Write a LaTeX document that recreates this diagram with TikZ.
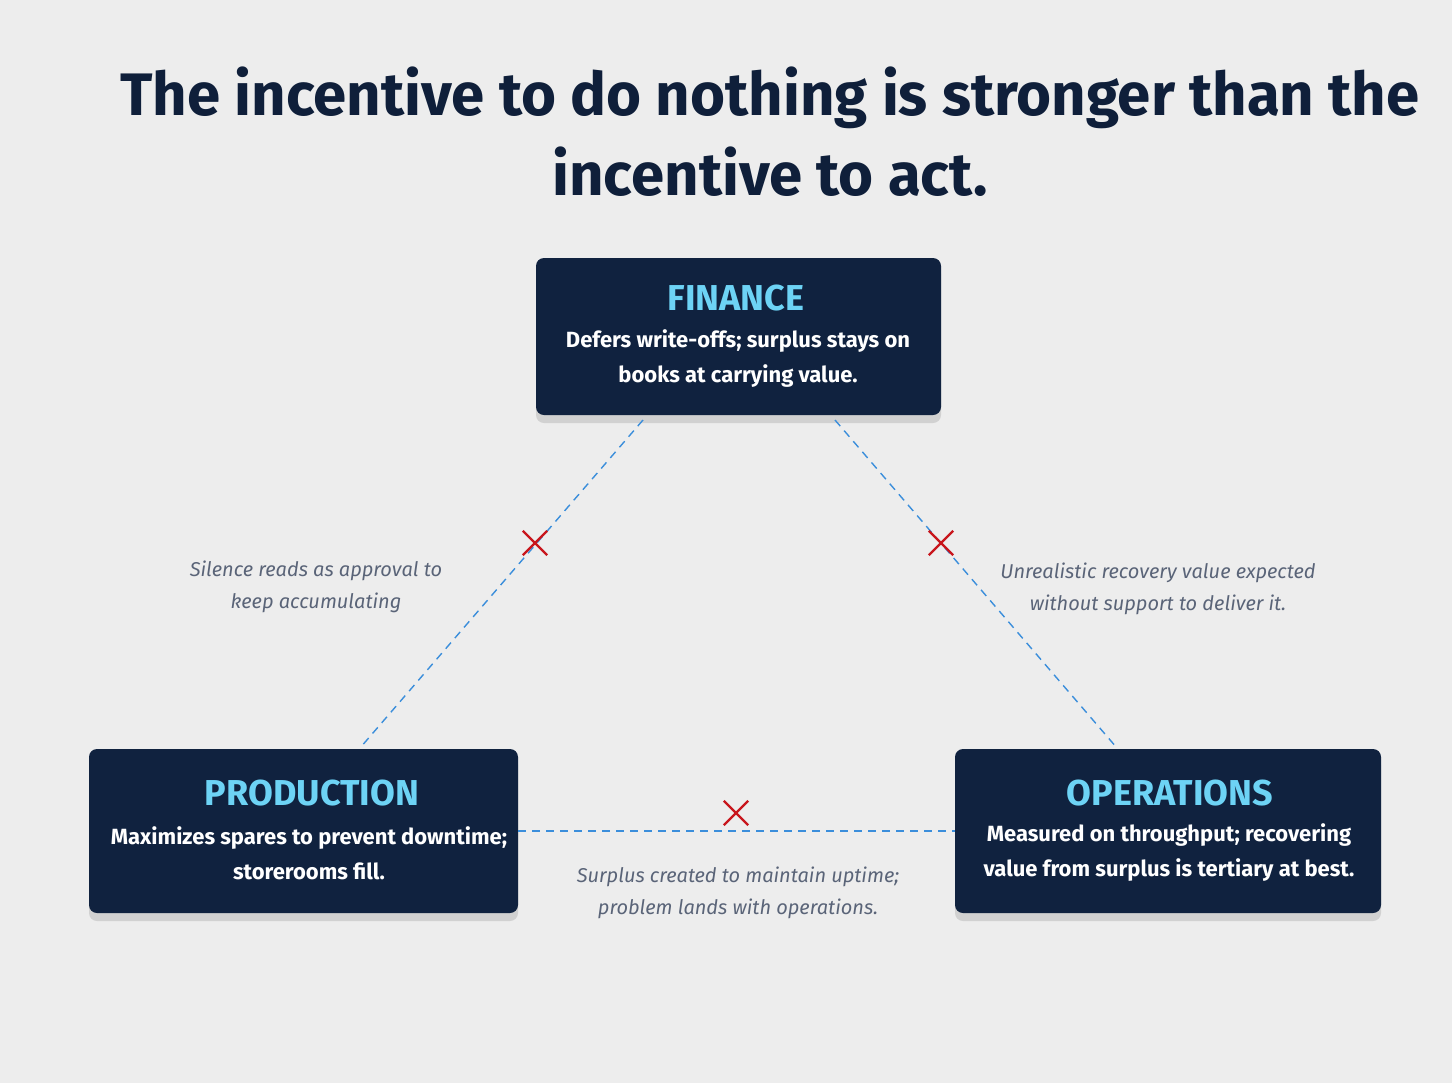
\documentclass[tikz,border=0pt]{standalone}
\usepackage{fontspec}
\setmainfont{Fira Sans}
\usetikzlibrary{positioning,shapes.misc,shadows}
\definecolor{navy}{HTML}{10223F}
\definecolor{titleblue}{HTML}{0F1F3A}
\definecolor{headcyan}{HTML}{6DD3F5}
\definecolor{notegray}{HTML}{5A6478}
\definecolor{linkblue}{HTML}{3B8EDB}
\definecolor{crossred}{HTML}{C8161D}
\begin{document}
\begin{tikzpicture}[x=0.5pt,y=-0.5pt,
  party/.style={fill=navy, rounded corners=4pt, text=white, align=center, inner sep=0pt,
    drop shadow={opacity=0.25,shadow xshift=0pt,shadow yshift=-4pt}},
  link/.style={linkblue, dashed, dash pattern=on 4pt off 3pt, line width=0.7pt},
  cut/.style={cross out, draw=crossred, line width=1.2pt, minimum size=11pt, inner sep=0pt},
  note/.style={text=notegray, font=\itshape\fontsize{10}{16}\selectfont, align=center}]
\fill[black!7] (0,0) rectangle (1452,1083);
\useasboundingbox (0,0) rectangle (1452,1083);

\node[text=titleblue, font=\bfseries\fontsize{30}{40}\selectfont, align=center] (title) at (770,132)
  {The incentive to do nothing is stronger than the\\incentive to act.};

% the three parties
\node[party, minimum width=202.5pt, minimum height=78.5pt] (finance) at (738.5,336.5) {};
\node[party, minimum width=214.5pt, minimum height=82pt] (production) at (303.5,831) {};
\node[party, minimum width=213pt, minimum height=82pt] (operations) at (1168,831) {};

\node[text=headcyan, font=\bfseries\fontsize{18}{20}\selectfont] (financeHead) at (736,298) {FINANCE};
\node[text=white, font=\bfseries\fontsize{11}{17.5}\selectfont, align=center] (financeText) at (738,359)
  {Defers write-offs; surplus stays on\\books at carrying value.};
\node[text=headcyan, font=\bfseries\fontsize{18}{20}\selectfont] (productionHead) at (312,793) {PRODUCTION};
\node[text=white, font=\bfseries\fontsize{11}{17.5}\selectfont, align=center] (productionText) at (309,853)
  {Maximizes spares to prevent downtime;\\storerooms fill.};
\node[text=headcyan, font=\bfseries\fontsize{18}{20}\selectfont] (operationsHead) at (1170,793) {OPERATIONS};
\node[text=white, font=\bfseries\fontsize{11}{17.5}\selectfont, align=center] (operationsText) at (1169,853)
  {Measured on throughput; recovering\\value from surplus is tertiary at best.};

% broken links
\coordinate (fl) at (643,420);
\coordinate (fr) at (835,420);
\coordinate (pt) at (360,748);
\coordinate (ot) at (1117,748);
\draw[link] (fl) -- (pt);
\draw[link] (fr) -- (ot);
\draw[link] (production.east) -- (operations.west);
\node[cut] (cutLeft) at (535,543) {};
\node[cut] (cutRight) at (941,543) {};
\node[cut] (cutBottom) at (736,813) {};

\node[note] (noteLeft) at (316,587) {Silence reads as approval to\\keep accumulating};
\node[note] (noteRight) at (1158,589) {Unrealistic recovery value expected\\without support to deliver it.};
\node[note] (noteBottom) at (738,893) {Surplus created to maintain uptime;\\problem lands with operations.};
\end{tikzpicture}
\end{document}
